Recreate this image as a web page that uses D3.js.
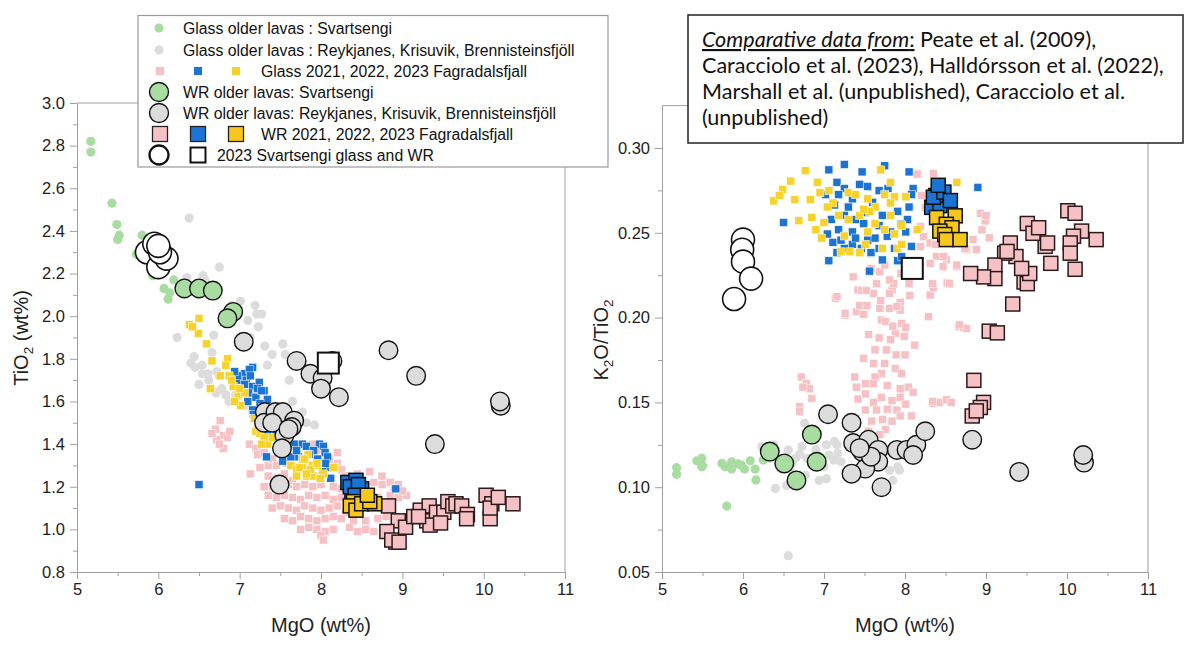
<!DOCTYPE html>
<html><head><meta charset="utf-8">
<script src="https://cdn.jsdelivr.net/npm/d3@7"></script>
<style>
html,body{margin:0;padding:0;background:#fff;}
svg{display:block;font-family:"Liberation Sans",Arial,sans-serif;}
.axis path,.axis line{stroke:#a0a0a0;}
.axis text{fill:#222;font-size:16.5px;font-family:"Liberation Sans",Arial,sans-serif;}
</style></head>
<body>
<svg id="c" width="1200" height="651"></svg>
<script>
// ---------------- DATA (MgO wt%, value) ----------------
const xTicks = [5,6,7,8,9,10,11];
const yTicksTi = [0.8,1.0,1.2,1.4,1.6,1.8,2.0,2.2,2.4,2.6,2.8,3.0];
const yTicksK = [0.05,0.10,0.15,0.20,0.25,0.30];

const legendLabels = [
  "Glass older lavas : Svartsengi",
  "Glass older lavas : Reykjanes, Krisuvik, Brennisteinsfjöll",
  "Glass 2021, 2022, 2023 Fagradalsfjall",
  "WR older lavas: Svartsengi",
  "WR older lavas: Reykjanes, Krisuvik, Brennisteinsfjöll",
  "WR 2021, 2022, 2023 Fagradalsfjall",
  "2023 Svartsengi glass and WR"
];
const sourceLines = [
  "Peate et al. (2009),",
  "Caracciolo et al. (2023), Halldórsson et al. (2022),",
  "Marshall et al. (unpublished), Caracciolo et al.",
  "(unpublished)"
];

// ---- TiO2 panel ----
const glassGreenTi = [[5.17,2.82],[5.17,2.77],[5.43,2.53],[5.49,2.43],[5.52,2.38],[5.50,2.36],[5.80,2.38],[5.73,2.29],[5.93,2.19],[6.07,2.13],[6.19,2.17],[6.14,2.11],[6.12,2.08],[5.95,2.25],[6.02,2.20],[5.85,2.30]];
const glassGrayTi = [[6.38,2.46],[6.75,2.23],[6.35,2.18],[6.55,2.19],[6.57,2.17],[7.01,2.07],[6.99,2.03],[7.19,2.05],[7.21,2.01],[7.27,2.01],[7.23,1.95],[7.13,1.90],[7.31,1.86],[7.40,1.82],[7.53,1.87],[7.56,1.82],[7.61,1.70],[7.65,1.60],[7.77,1.55],[7.82,1.50],[7.92,1.49],[6.23,1.90],[6.44,1.81],[6.40,1.78],[6.54,1.77],[6.68,1.91],[6.50,1.68],[6.54,1.73],[6.61,1.73],[6.71,1.64],[6.83,1.63],[6.87,1.60],[6.75,1.72],[7.06,1.58],[6.93,1.69],[6.66,1.83],[7.34,1.77],[6.45,1.76],[6.62,1.70],[6.78,1.66],[6.95,1.63],[7.10,1.98],[6.90,2.05],[6.72,1.74]];
const glassPinkTi = [[6.70,1.47],[6.76,1.51],[6.80,1.44],[6.72,1.42],[6.85,1.43],[6.80,1.38],[6.75,1.40],[6.88,1.46],[6.66,1.45],
 [7.13,1.26],[7.12,1.40],[7.20,1.38],[7.22,1.35],[7.30,1.36],[7.35,1.30],[7.25,1.29],[7.40,1.33],[7.45,1.30],[7.50,1.36],[7.58,1.31],
 [7.30,1.20],[7.35,1.25],[7.40,1.20],[7.45,1.24],[7.50,1.19],[7.55,1.26],[7.60,1.21],[7.65,1.23],[7.70,1.20],[7.80,1.21],[7.90,1.20],[8.00,1.21],[8.15,1.20],[8.25,1.19],
 [7.35,1.16],[7.45,1.15],[7.55,1.16],[7.65,1.15],[7.75,1.14],[7.85,1.16],[7.95,1.15],[8.05,1.16],[8.15,1.14],[8.25,1.15],
 [7.40,1.10],[7.50,1.11],[7.60,1.10],[7.70,1.09],[7.80,1.11],[7.90,1.10],[8.00,1.09],[8.10,1.10],[8.20,1.11],[8.30,1.08],
 [7.55,1.05],[7.65,1.04],[7.75,1.06],[7.85,1.05],[7.95,1.04],[8.05,1.05],[8.15,1.06],[8.25,1.05],
 [7.75,1.00],[7.85,1.01],[7.95,1.00],[8.05,0.99],[8.15,1.00],[8.00,0.97],[8.03,0.95],
 [7.90,1.40],[7.95,1.37],[8.20,1.36],[8.20,1.31],[8.25,1.28],[8.10,1.33],
 [8.30,1.25],[8.45,1.26],[8.60,1.27],[8.75,1.25],[8.35,1.18],[8.40,1.21],
 [8.75,1.21],[8.85,1.22],[8.95,1.21],[8.90,1.19],[8.70,1.15],[8.85,1.16],[8.95,1.15],[9.05,1.16],[8.75,1.10],
 [8.40,1.04],[8.55,1.04],[8.70,1.05],[8.80,1.06],[8.35,1.01],[8.45,0.99],[8.55,1.00],[8.65,0.99],[8.65,1.22],[9.00,1.18]];
const glassBlueTi = [[7.16,1.76],[7.06,1.73],[6.99,1.70],[6.97,1.72],[7.08,1.70],[7.16,1.67],[7.11,1.64],[7.20,1.62],[7.30,1.65],[7.34,1.61],[7.25,1.59],[7.16,1.56],[7.30,1.55],[7.17,1.54],[7.34,1.45],[7.58,1.42],[7.67,1.40],[7.77,1.40],[7.82,1.39],[7.98,1.40],[8.03,1.39],[8.05,1.36],[8.08,1.34],[8.10,1.29],[8.12,1.24],[7.91,1.37],[7.72,1.34],[7.63,1.34],[7.53,1.32],[7.33,1.34],[6.50,1.21],[8.92,1.19],[6.94,1.74],[7.06,1.68],[7.12,1.75],[7.24,1.69],[7.22,1.66],[7.10,1.60],[7.28,1.57],[7.40,1.56],[7.42,1.50],[7.45,1.46],[7.70,1.37],[7.86,1.35],[7.96,1.33],[8.06,1.31],[8.02,1.27],[7.27,1.65],[7.13,1.72]];
const glassYellowTi = [[6.38,1.96],[6.50,1.99],[6.49,1.92],[6.42,1.95],[6.59,1.87],[6.66,1.79],[6.85,1.80],[6.83,1.77],[6.76,1.72],[6.64,1.66],[6.87,1.72],[6.92,1.67],[6.98,1.63],[7.01,1.58],[6.94,1.60],[7.06,1.64],[7.18,1.52],[7.20,1.46],[7.25,1.45],[7.30,1.43],[7.34,1.40],[7.40,1.43],[7.27,1.40],[7.63,1.30],[7.70,1.28],[7.77,1.30],[7.82,1.25],[7.89,1.30],[7.96,1.30],[8.03,1.26],[7.91,1.25],[7.98,1.24],[8.17,1.29],[7.84,1.35],[7.77,1.33],[7.74,1.29],[7.87,1.28],[7.95,1.31],[7.99,1.24],[8.15,1.29],[7.70,1.25],[7.82,1.26],[7.80,1.33],[6.90,1.70],[7.00,1.66]];
const wrGreenTi = [[6.32,2.13],[6.50,2.13],[6.67,2.12],[6.92,2.02],[6.85,1.99]];
const wrGrayTi = [[7.05,1.88],[7.70,1.79],[7.87,1.73],[8.02,1.71],[8.00,1.66],[8.22,1.62],[8.14,1.79],[8.83,1.84],[9.17,1.72],[9.40,1.40],[10.21,1.58],[10.20,1.60],[7.31,1.55],[7.30,1.50],[7.44,1.55],[7.53,1.55],[7.67,1.51],[7.64,1.48],[7.55,1.44],[7.52,1.38],[7.49,1.21],[7.40,1.50],[7.60,1.47]];
const wrPinkTi = [[8.83,1.11],[8.95,1.04],[8.81,0.99],[8.92,0.94],[8.87,0.95],[9.04,1.01],[9.14,1.06],[9.22,1.09],[9.33,1.11],[9.30,1.04],[9.42,1.05],[9.42,1.08],[9.51,1.08],[9.56,1.13],[9.62,1.11],[9.66,1.12],[9.73,1.11],[9.80,1.07],[9.79,1.05],[10.03,1.16],[10.10,1.12],[10.08,1.05],[10.08,1.10],[10.18,1.15],[10.36,1.12],[9.34,1.02],[9.47,1.03],[9.20,1.06],[8.96,0.94]];
const wrBlueTi = [[8.33,1.22],[8.43,1.23],[8.38,1.18],[8.50,1.19],[8.36,1.20],[8.46,1.21],[8.42,1.16]];
const wrYellowTi = [[8.40,1.13],[8.36,1.11],[8.43,1.09],[8.50,1.12],[8.66,1.12],[8.60,1.13],[8.57,1.16]];
const svGlassTi = [[5.86,2.30],[6.00,2.23],[6.10,2.27],[5.95,2.34],[6.02,2.30],[6.00,2.33]];
const svWrTi = [[8.09,1.78]];

// ---- K2O/TiO2 panel ----
const glassGreenK = [[5.18,0.1115],[5.18,0.1076],[5.43,0.1156],[5.49,0.117],[5.50,0.1127],[5.49,0.112],[5.74,0.114],[5.86,0.115],[5.94,0.1137],[5.86,0.1107],[6.02,0.1107],[6.09,0.1156],[6.15,0.1107],[6.16,0.1043],[5.80,0.0889],[5.78,0.112],[5.98,0.113],[6.25,0.116]];
const glassGrayK = [[6.56,0.0596],[6.76,0.1377],[6.23,0.124],[6.56,0.122],[6.70,0.1195],[6.40,0.0993],[6.54,0.101],[6.77,0.107],[6.94,0.104],[7.03,0.105],[6.79,0.117],[7.03,0.125],[7.13,0.127],[7.17,0.12],[7.21,0.115],[6.60,0.114],[6.62,0.108],[6.46,0.111],[7.81,0.110],[7.93,0.11],[7.85,0.104],[7.12,0.116],[6.46,0.116],[6.38,0.125],[6.73,0.124],[6.65,0.117],[7.06,0.119],[7.16,0.125],[7.91,0.112],[6.90,0.122],[6.33,0.117],[7.00,0.112]];
const glassPinkK = [
 [7.14,0.2114],[7.26,0.2015],[7.40,0.2035],[7.42,0.2163],[7.46,0.216],[7.61,0.2143],[7.44,0.207],[7.49,0.202],[7.53,0.207],[7.69,0.2055],[7.71,0.1986],[7.81,0.2055],[7.84,0.2163],[7.86,0.22],[7.94,0.209],[7.94,0.2045],[7.96,0.1966],[8.01,0.194],[7.76,0.1977],[7.88,0.1907],[7.99,0.189],[7.82,0.187],
 [7.77,0.1809],[7.89,0.178],[8.00,0.178],[8.12,0.1838],[7.63,0.181],[7.49,0.176],[7.61,0.173],[7.75,0.173],[7.88,0.170],[7.96,0.167],[7.71,0.167],[7.63,0.165],[7.38,0.165],[7.51,0.161],[7.61,0.161],[7.78,0.160],[7.94,0.158],[8.04,0.159],[8.10,0.156],[7.40,0.159],
 [7.42,0.152],[7.51,0.155],[7.61,0.150],[7.71,0.153],[7.84,0.151],[7.94,0.153],[8.01,0.149],[7.51,0.1455],[7.65,0.1455],[7.78,0.146],[7.90,0.1455],[7.72,0.140],[7.84,0.139],[7.59,0.139],[7.94,0.142],[8.08,0.142],[7.55,0.133],[7.76,0.134],[7.69,0.131],
 [6.72,0.165],[6.78,0.161],[6.82,0.158],[6.74,0.159],[6.85,0.1524],[6.70,0.1475],[6.70,0.1445],
 [8.35,0.1495],[8.43,0.150],[8.51,0.1515],[8.57,0.150],[8.34,0.1506],
 [8.66,0.1946],[8.72,0.194],[8.76,0.1935],[8.67,0.1957],
 [8.29,0.2005],[8.31,0.2133],[8.06,0.213],[8.35,0.2175],[8.53,0.220],[8.34,0.220],[8.52,0.2206],
 [8.14,0.2851],[8.35,0.285],[8.15,0.2846],[8.19,0.2536],[8.23,0.2477],[8.31,0.244],[8.19,0.2418],[8.39,0.236],[8.51,0.234],[8.31,0.232],[8.47,0.230],[8.64,0.230],[8.64,0.231],[8.55,0.220],
 [7.81,0.2222],[7.69,0.227],[7.65,0.220],[7.52,0.216],[7.36,0.224],[7.16,0.2123],[7.26,0.2025],[7.81,0.2143],[7.90,0.2064],[7.58,0.2290],[7.75,0.2310],[7.95,0.2260],[8.05,0.2200],[7.70,0.2100],[7.85,0.1950],[7.55,0.1900],[7.68,0.1880],
 [8.93,0.2615],[8.99,0.257],[8.95,0.2517],[8.88,0.240],[8.76,0.240],[8.84,0.246],[8.74,0.2408],[9.00,0.260],[9.04,0.247],[8.38,0.2432],[8.48,0.236],[8.25,0.2650],[8.20,0.2720]];
const glassBlueK = [[6.50,0.2561],[7.06,0.2871],[7.25,0.2903],[7.47,0.2859],[7.75,0.2895],[8.05,0.2859],[8.10,0.2761],[8.90,0.2768],[7.06,0.2335],[7.56,0.2274],[7.72,0.2340],[7.91,0.2335],[7.16,0.2798],[7.02,0.2725],[7.13,0.2664],[7.09,0.2579],[7.04,0.2493],[7.11,0.2444],[7.18,0.2518],[7.25,0.2408],[7.35,0.2432],[7.30,0.2652],[7.39,0.2578],[7.35,0.2505],[7.49,0.2554],[7.54,0.2457],[7.58,0.2383],[7.63,0.2469],[7.68,0.2542],[7.72,0.2603],[7.82,0.2505],[7.87,0.2408],[7.96,0.2359],[8.01,0.2505],[8.05,0.2652],[8.03,0.2578],[7.91,0.2627],[7.79,0.2761],[7.68,0.2749],[7.54,0.2773],[7.44,0.2786],[7.25,0.2761],[7.18,0.2725],[7.25,0.2603],[7.39,0.2469],[7.16,0.2383],[8.08,0.2420],[8.08,0.2725],[7.68,0.2408],[7.46,0.2408],[7.21,0.2457],[7.60,0.2680],[7.35,0.2700],[7.95,0.2550],[7.50,0.2620],[7.78,0.2480]];
const glassYellowK = [[6.77,0.2866],[6.59,0.2805],[6.49,0.2754],[6.38,0.2688],[6.64,0.2695],[6.69,0.2571],[6.83,0.2695],[6.92,0.2798],[6.95,0.2737],[6.85,0.2591],[6.90,0.2518],[6.97,0.2469],[7.21,0.2388],[7.32,0.2388],[7.44,0.2383],[7.51,0.2432],[7.72,0.2408],[7.91,0.2408],[7.96,0.2432],[7.70,0.2871],[7.82,0.2798],[7.30,0.2737],[7.39,0.2725],[7.54,0.2700],[7.63,0.2652],[7.75,0.2725],[7.87,0.2712],[8.01,0.2712],[8.15,0.2518],[7.96,0.2542],[7.82,0.2603],[7.56,0.2627],[7.44,0.2603],[7.30,0.2578],[7.18,0.2603],[7.11,0.2676],[7.04,0.2652],[7.25,0.2481],[7.54,0.2505],[7.75,0.2518],[7.87,0.2493],[7.06,0.2749],[8.64,0.2798],[7.49,0.2639],[7.63,0.2554],[7.82,0.2676],[6.45,0.2720],[7.00,0.2560]];
const wrGreenK = [[6.33,0.121],[6.51,0.114],[6.66,0.104],[6.85,0.131],[6.91,0.115]];
const wrGrayK = [[7.05,0.143],[7.34,0.138],[7.36,0.126],[7.55,0.128],[7.47,0.121],[7.67,0.122],[7.67,0.115],[7.51,0.111],[7.34,0.108],[7.71,0.100],[7.90,0.122],[8.02,0.122],[8.14,0.125],[8.25,0.133],[8.10,0.119],[7.58,0.118],[8.83,0.128],[9.41,0.109],[10.21,0.1145],[10.20,0.119],[7.44,0.123]];
const wrPinkK = [[10.01,0.263],[10.10,0.2615],[10.18,0.251],[10.36,0.246],[10.08,0.248],[10.04,0.244],[10.04,0.238],[10.10,0.2285],[9.80,0.232],[9.73,0.242],[9.76,0.244],[9.51,0.2555],[9.58,0.2497],[9.65,0.253],[9.30,0.244],[9.37,0.236],[9.23,0.238],[9.11,0.231],[9.47,0.221],[9.51,0.220],[9.54,0.226],[9.11,0.223],[8.97,0.224],[8.81,0.226],[9.33,0.208],[9.04,0.192],[9.14,0.191],[8.85,0.163],[8.97,0.150],[8.93,0.147],[8.83,0.142],[8.88,0.145],[9.44,0.229],[9.26,0.239]];
const wrBlueK = [[8.33,0.265],[8.43,0.266],[8.38,0.272],[8.35,0.271],[8.48,0.274],[8.56,0.269],[8.41,0.278]];
const wrYellowK = [[8.39,0.259],[8.62,0.260],[8.51,0.255],[8.58,0.253],[8.43,0.251],[8.49,0.249],[8.51,0.246],[8.68,0.246]];
const svGlassK = [[6.00,0.246],[5.99,0.240],[6.00,0.233],[6.10,0.223],[5.89,0.211]];
const svWrK = [[8.09,0.229]];

// ---------------- STYLE ----------------
const C = {
  green:"#a9dca1", gray:"#dcdcdc", pink:"#f6c1c4", blue:"#1b74d3",
  yellowGlass:"#f6d22a", yellowWR:"#f8c71c"
};

const svg = d3.select("#c");

function drawPanel(opt){
  const g = svg.append("g");
  const x = d3.scaleLinear([5,11],[opt.x0,opt.x1]);
  const y = d3.scaleLinear(opt.yDom,[opt.y0,opt.y1]);
  // frame (top/right)
  g.append("line").attr("x1",x(5)).attr("x2",x(11)).attr("y1",y(opt.yDom[1])).attr("y2",y(opt.yDom[1])).attr("stroke","#a0a0a0");
  g.append("line").attr("x1",x(11)).attr("x2",x(11)).attr("y1",y(opt.yDom[1])).attr("y2",y(opt.yDom[0])).attr("stroke","#a0a0a0");
  // minor ticks
  g.append("g").attr("class","axis").attr("transform",`translate(0,${y(opt.yDom[0])})`)
    .call(d3.axisBottom(x).tickValues(d3.range(5.5,11,1)).tickSize(4).tickFormat("")).select(".domain").remove();
  g.append("g").attr("class","axis").attr("transform",`translate(${x(5)},0)`)
    .call(d3.axisLeft(y).tickValues(opt.minor).tickSize(4).tickFormat("")).select(".domain").remove();
  // major axes
  g.append("g").attr("class","axis").attr("transform",`translate(0,${y(opt.yDom[0])})`)
    .call(d3.axisBottom(x).tickValues(xTicks).tickSize(7).tickPadding(4).tickFormat(d3.format("d")).tickSizeOuter(0));
  g.append("g").attr("class","axis").attr("transform",`translate(${x(5)},0)`)
    .call(d3.axisLeft(y).tickValues(opt.major).tickSize(7).tickPadding(5).tickFormat(d3.format(opt.fmt)).tickSizeOuter(0));
  // axis titles
  g.append("text").attr("x",(opt.x0+opt.x1)/2).attr("y",632).attr("text-anchor","middle")
    .attr("font-size",20).attr("fill","#222").text("MgO (wt%)");
  const yt = g.append("text").attr("transform",`translate(${opt.ytx},${opt.yty}) rotate(-90)`)
    .attr("text-anchor","middle").attr("font-size",20).attr("fill","#222");
  opt.ytitle(yt);

  const pts = g.append("g");
  function circ(data,r,fill,stroke,sw){
    pts.append("g").selectAll("circle").data(data).join("circle")
      .attr("cx",d=>x(d[0])).attr("cy",d=>y(d[1])).attr("r",r)
      .attr("fill",fill).attr("stroke",stroke).attr("stroke-width",sw);
  }
  function sq(data,s,fill,stroke,sw){
    pts.append("g").selectAll("rect").data(data).join("rect")
      .attr("x",d=>x(d[0])-s/2).attr("y",d=>y(d[1])-s/2).attr("width",s).attr("height",s)
      .attr("fill",fill).attr("stroke",stroke).attr("stroke-width",sw);
  }
  const D = opt.data;
  circ(D.gGray,4.6,C.gray,"none",0);
  circ(D.gGreen,4.6,C.green,"none",0);
  sq(D.gPink,8,C.pink,"#fff",0.5);
  sq(D.gBlue,8,C.blue,"#fff",0.5);
  sq(D.gYellow,8,C.yellowGlass,"#fff",0.5);
  circ(D.wGray,9.3,C.gray,"#111",1.4);
  circ(D.wGreen,9.3,C.green,"#111",1.4);
  sq(D.wPink,14,C.pink,"#2a1a1a",1.5);
  sq(D.wBlue,14,C.blue,"#111",1.5);
  sq(D.wYellow,14,C.yellowWR,"#111",1.5);
  circ(D.sGlass,11.5,"#fff","#111",1.6);
  sq(D.sWr,21,"#fff","#111",2);
}

drawPanel({
  x0:77,x1:565,y0:572,y1:103,yDom:[0.8,3.0],
  major:yTicksTi, minor:d3.range(0.9,3.0,0.2).map(v=>+v.toFixed(2)), fmt:".1f",
  ytx:28, yty:338,
  ytitle:t=>{t.append("tspan").text("TiO");t.append("tspan").attr("font-size",13.5).attr("dy",5).text("2");t.append("tspan").attr("dy",-5).text(" (wt%)");},
  data:{gGray:glassGrayTi,gGreen:glassGreenTi,gPink:glassPinkTi,gBlue:glassBlueTi,gYellow:glassYellowTi,
        wGray:wrGrayTi,wGreen:wrGreenTi,wPink:wrPinkTi,wBlue:wrBlueTi,wYellow:wrYellowTi,sGlass:svGlassTi,sWr:svWrTi}
});
drawPanel({
  x0:662,x1:1148,y0:572,y1:105.6,yDom:[0.05,0.325],
  major:yTicksK, minor:[0.075,0.125,0.175,0.225,0.275], fmt:".2f",
  ytx:608, yty:340,
  ytitle:t=>{t.append("tspan").text("K");t.append("tspan").attr("font-size",13.5).attr("dy",5).text("2");t.append("tspan").attr("dy",-5).text("O/TiO");t.append("tspan").attr("font-size",13.5).attr("dy",5).text("2");},
  data:{gGray:glassGrayK,gGreen:glassGreenK,gPink:glassPinkK,gBlue:glassBlueK,gYellow:glassYellowK,
        wGray:wrGrayK,wGreen:wrGreenK,wPink:wrPinkK,wBlue:wrBlueK,wYellow:wrYellowK,sGlass:svGlassK,sWr:svWrK}
});

// ---------------- LEGEND ----------------
const L = svg.append("g");
L.append("rect").attr("x",138).attr("y",15.5).attr("width",470).attr("height",151.5).attr("fill","#fff").attr("stroke","#999").attr("stroke-width",1.2);
const rows = [28,50,71,92,113,134,155];
const lx = [183,183,261,183,183,261,217];
legendLabels.forEach((s,i)=>{
  L.append("text").attr("x",lx[i]).attr("y",rows[i]+5.7).attr("font-size",15.8).attr("fill","#111").text(s);
});
L.append("circle").attr("cx",159).attr("cy",rows[0]).attr("r",4.6).attr("fill",C.green);
L.append("circle").attr("cx",159).attr("cy",rows[1]).attr("r",4.6).attr("fill",C.gray);
[[160,C.pink],[198,C.blue],[236,C.yellowGlass]].forEach(([cx,f])=>L.append("rect").attr("x",cx-4).attr("y",rows[2]-4).attr("width",8).attr("height",8).attr("fill",f));
L.append("circle").attr("cx",159).attr("cy",rows[3]).attr("r",9.5).attr("fill",C.green).attr("stroke","#111").attr("stroke-width",1.4);
L.append("circle").attr("cx",159).attr("cy",rows[4]).attr("r",9.5).attr("fill",C.gray).attr("stroke","#111").attr("stroke-width",1.4);
[[160,C.pink],[198,C.blue],[236,C.yellowWR]].forEach(([cx,f])=>L.append("rect").attr("x",cx-7.5).attr("y",rows[5]-7.5).attr("width",15).attr("height",15).attr("fill",f).attr("stroke","#222").attr("stroke-width",1.3));
L.append("circle").attr("cx",159).attr("cy",rows[6]).attr("r",9.5).attr("fill","#fff").attr("stroke","#111").attr("stroke-width",2.3);
L.append("rect").attr("x",190.5).attr("y",rows[6]-7.5).attr("width",15).attr("height",15).attr("fill","#fff").attr("stroke","#111").attr("stroke-width",2);

// ---------------- SOURCE BOX ----------------
const B = svg.append("g").attr("font-family","Lato, 'Open Sans', sans-serif").attr("fill","#111");
B.append("rect").attr("x",688).attr("y",15).attr("width",495).attr("height",128).attr("fill","#fff").attr("stroke","#222").attr("stroke-width",1.5);
const fs = 20.5;
const t1 = B.append("text").attr("x",702).attr("y",47).attr("font-size",fs);
t1.append("tspan").attr("font-style","italic").attr("text-decoration","underline").text("Comparative data from");
t1.append("tspan").attr("text-decoration","underline").text(":");
t1.append("tspan").text(" "+sourceLines[0]);
sourceLines.slice(1).forEach((s,i)=>{
  B.append("text").attr("x",702).attr("y",73+26*i).attr("font-size",fs).text(s);
});
// fit widest line to box width
const wide = B.selectAll("text").filter((d,i)=>i===1).node();
const w = wide.getComputedTextLength();
const k = 462/w;
B.selectAll("text").attr("font-size",fs*k);
</script>
</body></html>
